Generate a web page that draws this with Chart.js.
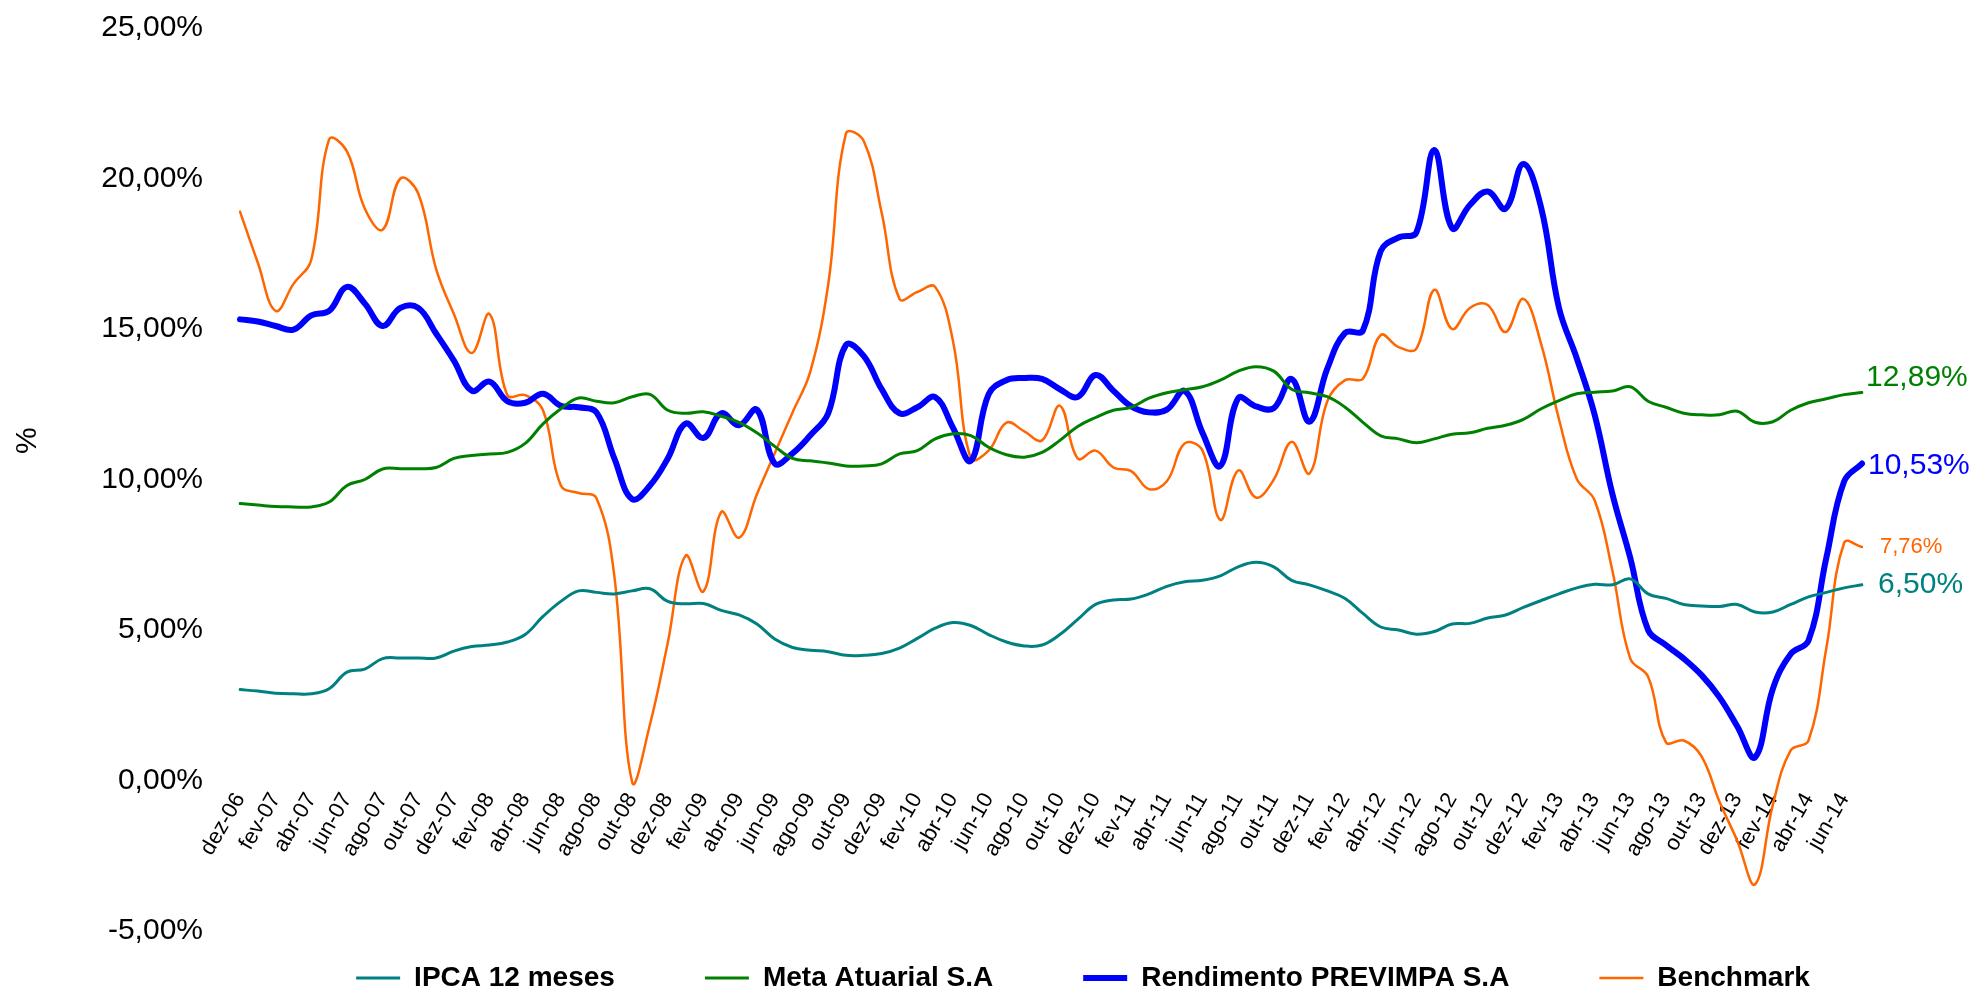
<!DOCTYPE html>
<html lang="pt-BR">
<head>
<meta charset="utf-8">
<title>Rendimento PREVIMPA</title>
<script src="https://cdn.jsdelivr.net/npm/chart.js@4/dist/chart.umd.min.js"></script>
<style>
  html, body { margin: 0; padding: 0; background: #fff; }
  #wrap { position: relative; width: 1979px; height: 995px; }
</style>
</head>
<body>
<div id="wrap"><canvas id="chart"></canvas></div>
<script>
const months = [
  "dez-06",
  "jan-07", "fev-07", "mar-07", "abr-07", "mai-07", "jun-07", "jul-07", "ago-07", "set-07", "out-07", "nov-07", "dez-07",
  "jan-08", "fev-08", "mar-08", "abr-08", "mai-08", "jun-08", "jul-08", "ago-08", "set-08", "out-08", "nov-08", "dez-08",
  "jan-09", "fev-09", "mar-09", "abr-09", "mai-09", "jun-09", "jul-09", "ago-09", "set-09", "out-09", "nov-09", "dez-09",
  "jan-10", "fev-10", "mar-10", "abr-10", "mai-10", "jun-10", "jul-10", "ago-10", "set-10", "out-10", "nov-10", "dez-10",
  "jan-11", "fev-11", "mar-11", "abr-11", "mai-11", "jun-11", "jul-11", "ago-11", "set-11", "out-11", "nov-11", "dez-11",
  "jan-12", "fev-12", "mar-12", "abr-12", "mai-12", "jun-12", "jul-12", "ago-12", "set-12", "out-12", "nov-12", "dez-12",
  "jan-13", "fev-13", "mar-13", "abr-13", "mai-13", "jun-13", "jul-13", "ago-13", "set-13", "out-13", "nov-13", "dez-13",
  "jan-14", "fev-14", "mar-14", "abr-14", "mai-14", "jun-14", "jul-14"
];

const ipca = [
  3.02, 2.97, 2.9, 2.88, 2.88, 3.05, 3.6, 3.7, 4.05, 4.07,
  4.07, 4.07, 4.3, 4.45, 4.5, 4.6, 4.85, 5.45, 5.95, 6.3,
  6.25, 6.2, 6.3, 6.37, 5.95, 5.87, 5.88, 5.65, 5.5, 5.2,
  4.7, 4.42, 4.33, 4.28, 4.16, 4.16, 4.22, 4.4, 4.72, 5.06,
  5.25, 5.15, 4.85, 4.6, 4.47, 4.5, 4.85, 5.35, 5.85, 6.0,
  6.03, 6.2, 6.45, 6.6, 6.65, 6.8, 7.1, 7.25, 7.1, 6.65,
  6.5, 6.3, 6.05, 5.55, 5.1, 5.0, 4.86, 4.95, 5.2, 5.22,
  5.4, 5.5, 5.75, 5.98, 6.2, 6.4, 6.52, 6.5, 6.7, 6.2,
  6.05, 5.85, 5.8, 5.78, 5.85, 5.6, 5.6, 5.85, 6.1, 6.25,
  6.4, 6.5
];

const metaAtuarial = [
  9.2, 9.15, 9.1, 9.09, 9.09, 9.25, 9.8, 10.0, 10.35, 10.36,
  10.36, 10.4, 10.7, 10.8, 10.85, 10.9, 11.2, 11.85, 12.35, 12.71,
  12.6, 12.55, 12.75, 12.83, 12.3, 12.2, 12.25, 12.1, 11.9, 11.55,
  11.1, 10.7, 10.62, 10.55, 10.45, 10.45, 10.52, 10.85, 10.96, 11.35,
  11.52, 11.46, 11.07, 10.82, 10.74, 10.9, 11.3, 11.76, 12.06, 12.3,
  12.4, 12.7, 12.88, 12.98, 13.08, 13.3, 13.6, 13.75, 13.6, 13.0,
  12.88, 12.75, 12.4, 11.9, 11.45, 11.35, 11.22, 11.35, 11.5, 11.55,
  11.7, 11.8, 12.0, 12.35, 12.62, 12.85, 12.9, 12.94, 13.08, 12.6,
  12.4, 12.2, 12.15, 12.15, 12.27, 11.9, 11.92, 12.3, 12.55, 12.68,
  12.82, 12.89
];

const rendimento = [
  15.32, 15.25, 15.1, 14.98, 15.45, 15.6, 16.4, 15.85, 15.1, 15.7,
  15.7, 14.85, 13.95, 12.95, 13.25, 12.6, 12.55, 12.85, 12.45, 12.4,
  12.23, 10.7, 9.35, 9.8, 10.7, 11.86, 11.38, 12.2, 11.8, 12.32,
  10.53, 10.87, 11.47, 12.2, 14.47, 14.1, 13.0, 12.2, 12.4, 12.74,
  11.72, 10.62, 12.83, 13.3, 13.37, 13.34, 13.0, 12.74, 13.47, 12.95,
  12.43, 12.23, 12.32, 12.94, 11.55, 10.45, 12.7, 12.43, 12.37, 13.34,
  11.92, 13.68, 14.87, 14.95, 17.59, 18.04, 18.21, 20.95, 18.35, 19.12,
  19.57, 19.0, 20.48, 19.03, 15.7, 14.02, 12.15, 9.51, 7.39, 5.0,
  4.5, 4.05, 3.5, 2.77, 1.8, 0.77, 3.05, 4.2, 4.65, 7.4,
  9.94, 10.53
];

const benchmark = [
  18.9, 17.2, 15.6, 16.5, 17.3, 21.3, 20.9, 19.0, 18.3, 20.0,
  19.5, 17.0, 15.5, 14.2, 15.5, 12.8, 12.8, 12.3, 9.8, 9.55,
  9.38, 6.8, -0.05, 1.86, 4.58, 7.47, 6.28, 8.92, 8.07, 9.51,
  10.87, 12.23, 13.59, 16.48, 21.5, 21.24, 18.86, 16.0, 16.23, 16.4,
  14.6, 10.7, 10.96, 11.89, 11.6, 11.3, 12.45, 10.7, 10.96, 10.4,
  10.28, 9.68, 9.94, 11.2, 10.96, 8.66, 10.3, 9.4, 10.0, 11.25,
  10.2, 12.6, 13.3, 13.35, 14.8, 14.4, 14.35, 16.3, 15.0, 15.7,
  15.8, 14.9, 16.0, 14.5, 12.0, 10.02, 9.31, 6.96, 4.05, 3.45,
  1.27, 1.33, 0.8, -0.7, -2.0, -3.45, -0.8, 1.0, 1.33, 4.4,
  7.9, 7.76
];

const yTicks = [-5, 0, 5, 10, 15, 20, 25];

const FONT = "'Liberation Sans', Arial, sans-serif";

function pct(v) {
  return v.toFixed(2).replace(".", ",") + "%";
}

// value label next to the last point of each line
const endLabels = {
  id: "endLabels",
  afterDatasetsDraw(chart) {
    const ctx = chart.ctx;
    chart.data.datasets.forEach((ds, i) => {
      const meta = chart.getDatasetMeta(i);
      const pt = meta.data[meta.data.length - 1];
      ctx.save();
      ctx.font = ds.endFont + "px " + FONT;
      ctx.fillStyle = ds.borderColor;
      ctx.textBaseline = "middle";
      ctx.fillText(pct(ds.data[ds.data.length - 1]), pt.x + ds.endDx, pt.y + ds.endDy);
      ctx.restore();
    });
  }
};

// "%" axis title, a bit above the middle of the plot like the original
const yTitle = {
  id: "yTitle",
  afterDraw(chart) {
    const a = chart.chartArea;
    const ctx = chart.ctx;
    ctx.save();
    ctx.translate(28, a.top + (a.bottom - a.top) * 0.457);
    ctx.rotate(-Math.PI / 2);
    ctx.font = "30px " + FONT;
    ctx.fillStyle = "#000";
    ctx.textAlign = "center";
    ctx.textBaseline = "middle";
    ctx.fillText("%", 0, 0);
    ctx.restore();
  }
};

// legend sits lower and further right than chart.js would put it
const legendNudge = {
  id: "legendNudge",
  afterLayout(chart) {
    const l = chart.legend;
    l.left += 152;
    l.right += 152;
    l.top -= 57;
    l.bottom = chart.height;
  }
};

new Chart(document.getElementById("chart"), {
  type: "line",
  data: {
    labels: months,
    datasets: [
      {
        label: "IPCA 12 meses",
        data: ipca,
        borderColor: "#008080",
        borderWidth: 3,
        endFont: 30, endDx: 16, endDy: 0
      },
      {
        label: "Meta Atuarial S.A",
        data: metaAtuarial,
        borderColor: "#008000",
        borderWidth: 3,
        endFont: 30, endDx: 4, endDy: -15
      },
      {
        label: "Rendimento PREVIMPA S.A",
        data: rendimento,
        borderColor: "#0000ff",
        borderWidth: 6,
        endFont: 30, endDx: 6, endDy: 2
      },
      {
        label: "Benchmark",
        data: benchmark,
        borderColor: "#ff6600",
        borderWidth: 2.5,
        endFont: 22, endDx: 18, endDy: 0
      }
    ]
  },
  options: {
    responsive: true,
    maintainAspectRatio: false,
    animation: false,
    events: [],
    layout: { padding: { top: 28, right: 117, bottom: 0, left: 0 } },
    elements: {
      point: { radius: 0 },
      line: { tension: 0.4, fill: false, borderCapStyle: "round", borderJoinStyle: "round" }
    },
    scales: {
      x: {
        position: { y: 0 },
        offset: false,
        grid: { display: false, drawTicks: false },
        border: { display: false },
        ticks: {
          autoSkip: false,
          minRotation: 60,
          maxRotation: 60,
          padding: 8,
          color: "#000",
          font: { family: FONT, size: 22 },
          callback: function (value, index) {
            return index % 2 === 0 ? this.getLabelForValue(value) : "";
          }
        }
      },
      y: {
        min: yTicks[0],
        max: yTicks[yTicks.length - 1],
        afterFit(scale) { scale.width = 240; },
        afterBuildTicks(scale) { scale.ticks = yTicks.map(v => ({ value: v })); },
        grid: { display: false, drawTicks: true, tickLength: 30 },
        border: { display: false },
        ticks: {
          padding: 7,
          color: "#000",
          font: { family: FONT, size: 30 },
          callback: v => pct(v)
        }
      }
    },
    plugins: {
      tooltip: { enabled: false },
      legend: {
        position: "bottom",
        maxHeight: 64,
        labels: {
          usePointStyle: true,
          pointStyle: "line",
          pointStyleWidth: 44,
          padding: 90,
          color: "#000",
          font: { family: FONT, size: 28, weight: "bold" }
        }
      }
    }
  },
  plugins: [endLabels, yTitle, legendNudge]
});
</script>
</body>
</html>
